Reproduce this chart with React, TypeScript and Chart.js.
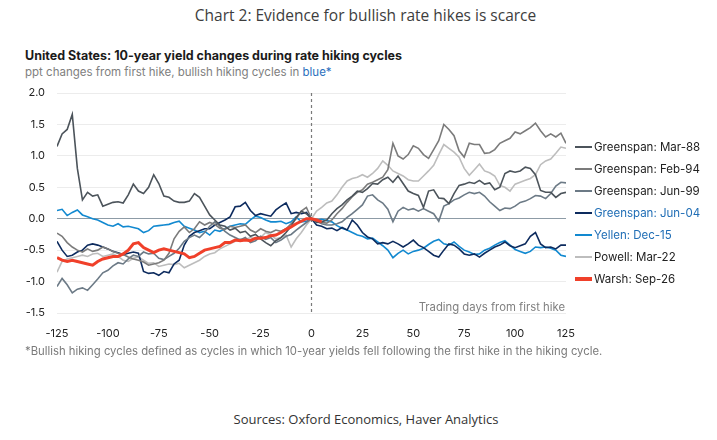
import React, { useEffect, useRef } from "react";
import { Chart, registerables } from "chart.js";

Chart.register(...registerables);

// Trading days from first hike (x grid, every 2.5 days)
const DAYS = [
  -125, -122.5, -120, -117.5, -115, -112.5, -110, -107.5, -105, -102.5,
  -100, -97.5, -95, -92.5, -90, -87.5, -85, -82.5, -80, -77.5,
  -75, -72.5, -70, -67.5, -65, -62.5, -60, -57.5, -55, -52.5,
  -50, -47.5, -45, -42.5, -40, -37.5, -35, -32.5, -30, -27.5,
  -25, -22.5, -20, -17.5, -15, -12.5, -10, -7.5, -5, -2.5,
  0,
  2.5, 5, 7.5, 10, 12.5, 15, 17.5, 20, 22.5, 25,
  27.5, 30, 32.5, 35, 37.5, 40, 42.5, 45, 47.5, 50,
  52.5, 55, 57.5, 60, 62.5, 65, 67.5, 70, 72.5, 75,
  77.5, 80, 82.5, 85, 87.5, 90, 92.5, 95, 97.5, 100,
  102.5, 105, 107.5, 110, 112.5, 115, 117.5, 120, 122.5, 125,
];

const MAR88 = [
  1.15, 1.35, 1.42, 1.66, 0.8, 0.3, 0.42, 0.36, 0.38, 0.2,
  0.23, 0.26, 0.27, 0.25, 0.38, 0.55, 0.44, 0.4, 0.5, 0.7,
  0.56, 0.36, 0.34, 0.28, 0.26, 0.26, 0.28, 0.4, 0.34, 0.2,
  0.06, -0.02, -0.1, -0.12, -0.18, -0.15, -0.22, -0.2, -0.28, -0.25,
  -0.32, -0.38, -0.43, -0.35, -0.3, -0.22, -0.12, 0.02, 0.12, 0.08,
  0.0,
  -0.06, -0.05, -0.02, 0.08, 0.16, 0.22, 0.3, 0.36, 0.44, 0.42,
  0.48, 0.56, 0.55, 0.62, 0.66, 0.58, 0.68, 0.56, 0.44, 0.4,
  0.37, 0.18, 0.44, 0.46, 0.33, 0.32, 0.24, 0.4, 0.53, 0.55,
  0.58, 0.56, 0.61, 0.55, 0.57, 0.46, 0.5, 0.72, 0.76, 0.74,
  0.76, 0.82, 0.8, 0.7, 0.45, 0.42, 0.42, 0.34, 0.4, 0.42,
];

const FEB94 = [
  -0.23, -0.28, -0.38, -0.45, -0.5, -0.53, -0.48, -0.52, -0.5, -0.45,
  -0.48, -0.52, -0.55, -0.57, -0.61, -0.64, -0.66, -0.69, -0.74, -0.72,
  -0.7, -0.66, -0.55, -0.32, -0.2, -0.13, -0.22, -0.16, -0.05, -0.1,
  -0.06, -0.09, -0.15, -0.17, -0.12, -0.14, -0.12, -0.1, -0.18, -0.22,
  -0.16, -0.2, -0.22, -0.18, -0.2, -0.16, -0.08, 0.0, 0.12, 0.18,
  0.0,
  -0.03, -0.06, -0.07, -0.02, 0.08, 0.16, 0.26, 0.35, 0.42, 0.46,
  0.55, 0.58, 0.62, 0.66, 0.78, 1.2, 1.0, 0.95, 1.02, 1.16,
  1.12, 1.02, 0.96, 1.1, 1.24, 1.5, 1.42, 1.32, 1.08, 0.98,
  1.2, 1.18, 1.18, 1.04, 1.05, 1.1, 1.2, 1.24, 1.28, 1.38,
  1.35, 1.4, 1.45, 1.52, 1.4, 1.3, 1.35, 1.3, 1.36, 1.2,
];

const JUN99 = [
  -1.08, -0.95, -1.05, -1.18, -1.12, -1.1, -1.14, -1.05, -0.96, -0.86,
  -0.82, -0.75, -0.7, -0.72, -0.64, -0.58, -0.6, -0.53, -0.56, -0.55,
  -0.63, -0.65, -0.6, -0.55, -0.47, -0.36, -0.3, -0.26, -0.3, -0.22,
  -0.12, -0.05, -0.12, -0.2, -0.26, -0.3, -0.34, -0.3, -0.38, -0.35,
  -0.28, -0.33, -0.3, -0.38, -0.34, -0.28, -0.25, -0.18, -0.12, -0.06,
  0.0,
  -0.04, -0.08, -0.1, -0.1, -0.08, -0.05, 0.02, 0.08, 0.15, 0.22,
  0.36, 0.38, 0.3, 0.25, 0.15, -0.05, 0.12, 0.18, 0.14, 0.16,
  0.12, 0.16, 0.12, 0.08, -0.04, 0.2, 0.24, 0.3, 0.33, 0.38,
  0.42, 0.4, 0.42, 0.36, 0.27, 0.2, 0.13, 0.17, 0.16, 0.2,
  0.26, 0.28, 0.32, 0.37, 0.36, 0.32, 0.4, 0.52, 0.58, 0.57,
];

const JUN04 = [
  -0.36, -0.5, -0.6, -0.58, -0.53, -0.5, -0.42, -0.4, -0.42, -0.45,
  -0.48, -0.52, -0.54, -0.57, -0.55, -0.53, -0.55, -0.84, -0.87, -0.86,
  -0.9, -0.84, -0.86, -0.72, -0.66, -0.42, -0.28, -0.22, -0.19, -0.16,
  -0.16, -0.1, -0.06, -0.02, 0.03, 0.19, 0.2, 0.26, 0.13, 0.05,
  0.08, 0.06, 0.04, 0.14, 0.2, 0.25, 0.08, 0.1, 0.08, 0.1,
  0.0,
  -0.1, -0.12, -0.16, -0.15, -0.19, -0.14, -0.18, -0.02, -0.1, -0.22,
  -0.29, -0.32, -0.4, -0.38, -0.4, -0.36, -0.4, -0.45, -0.4, -0.34,
  -0.42, -0.46, -0.52, -0.58, -0.61, -0.5, -0.4, -0.42, -0.48, -0.56,
  -0.58, -0.56, -0.61, -0.55, -0.5, -0.45, -0.42, -0.37, -0.43, -0.46,
  -0.43, -0.4, -0.28, -0.22, -0.4, -0.46, -0.45, -0.48, -0.42, -0.42,
];

const DEC15 = [
  0.13, 0.15, 0.05, 0.1, 0.14, 0.06, 0.03, 0.0, -0.02, -0.06,
  -0.1, -0.12, -0.08, -0.13, -0.12, -0.14, -0.16, -0.22, -0.19, -0.12,
  -0.11, -0.1, -0.09, -0.06, -0.04, -0.12, -0.15, -0.18, -0.22, -0.2,
  -0.26, -0.18, -0.2, -0.16, -0.12, -0.1, -0.08, -0.09, -0.02, 0.04,
  0.02, -0.02, -0.05, -0.05, -0.04, -0.08, -0.05, 0.03, -0.05, -0.04,
  0.0,
  -0.02, -0.01, -0.03, -0.05, -0.11, -0.15, -0.18, -0.22, -0.26, -0.28,
  -0.32, -0.31, -0.37, -0.43, -0.5, -0.62, -0.55, -0.5, -0.56, -0.52,
  -0.5, -0.47, -0.41, -0.36, -0.33, -0.4, -0.42, -0.37, -0.44, -0.5,
  -0.53, -0.57, -0.56, -0.5, -0.47, -0.42, -0.38, -0.35, -0.42, -0.49,
  -0.52, -0.55, -0.52, -0.45, -0.46, -0.45, -0.47, -0.5, -0.58, -0.6,
];

const MAR22 = [
  -0.85, -0.68, -0.64, -0.62, -0.6, -0.58, -0.6, -0.56, -0.55, -0.6,
  -0.58, -0.56, -0.6, -0.66, -0.68, -0.63, -0.61, -0.66, -0.71, -0.7,
  -0.76, -0.74, -0.72, -0.73, -0.71, -0.78, -0.74, -0.7, -0.66, -0.6,
  -0.56, -0.54, -0.48, -0.44, -0.4, -0.36, -0.32, -0.33, -0.3, -0.32,
  -0.3, -0.22, -0.26, -0.32, -0.3, -0.26, -0.45, -0.32, -0.22, -0.1,
  0.0,
  0.12, 0.18, 0.25, 0.28, 0.38, 0.5, 0.6, 0.64, 0.66, 0.7,
  0.66, 0.72, 0.8, 0.92, 0.85, 0.76, 0.72, 0.68, 0.62, 0.6,
  0.6, 0.68, 0.76, 0.85, 1.02, 1.18, 1.12, 1.06, 0.98, 0.8,
  0.69, 0.78, 0.87, 0.76, 0.73, 0.68, 0.53, 0.5, 0.44, 0.55,
  0.58, 0.61, 0.64, 0.7, 0.86, 0.92, 0.95, 1.04, 1.14, 1.12,
];

// Warsh: Sep-26 runs only to a few days after the (hypothetical) first hike
const SEP26 = [
  -0.62, -0.66, -0.68, -0.66, -0.68, -0.7, -0.72, -0.74, -0.68, -0.64,
  -0.62, -0.6, -0.6, -0.56, -0.5, -0.4, -0.38, -0.46, -0.5, -0.54,
  -0.5, -0.48, -0.5, -0.52, -0.54, -0.56, -0.62, -0.6, -0.55, -0.5,
  -0.48, -0.46, -0.44, -0.38, -0.38, -0.34, -0.35, -0.34, -0.35, -0.31,
  -0.31, -0.3, -0.27, -0.26, -0.22, -0.17, -0.13, -0.08, -0.04, 0.0,
  0.0,
  -0.02, -0.05,
];

const LABELS = [
  "Greenspan: Mar-88",
  "Greenspan: Feb-94",
  "Greenspan: Jun-99",
  "Greenspan: Jun-04",
  "Yellen: Dec-15",
  "Powell: Mar-22",
  "Warsh: Sep-26",
];
const COLORS = ["#4c545b", "#7b7b7b", "#6c7a86", "#0d2b5e", "#1289d0", "#bdbdbd", "#f0402a"];
const WIDTHS = [1.6, 1.6, 1.6, 1.6, 1.6, 1.6, 3];
const TEXT_COLORS = ["#222", "#222", "#222", "#1f6db5", "#1f6db5", "#222", "#222"];
const SERIES_DATA = [MAR88, FEB94, JUN99, JUN04, DEC15, MAR22, SEP26];

const Y_MIN = -1.5;
const Y_MAX = 2.0;
const X_MIN = -125;
const X_MAX = 125;

const FONT = "Inter, 'Open Sans', sans-serif";

export default function App() {
  const ref = useRef<HTMLCanvasElement>(null);

  useEffect(() => {
    document.body.style.margin = "0";
    const zeroLine = {
      id: "zeroLine",
      beforeDatasetsDraw(chart: any) {
        const { ctx, chartArea, scales } = chart;
        const x = scales.x.getPixelForValue(0);
        ctx.save();
        ctx.strokeStyle = "#7a7a7a";
        ctx.lineWidth = 1.2;
        ctx.setLineDash([3, 3]);
        ctx.beginPath();
        ctx.moveTo(x, chartArea.top);
        ctx.lineTo(x, chartArea.bottom);
        ctx.stroke();
        ctx.restore();
      },
    };

    const chart = new Chart(ref.current as HTMLCanvasElement, {
      type: "line",
      data: {
        datasets: SERIES_DATA.map((arr, k) => ({
          label: LABELS[k],
          data: arr.map((v, i) => ({ x: DAYS[i], y: v })),
          borderColor: COLORS[k],
          backgroundColor: COLORS[k],
          borderWidth: WIDTHS[k],
          pointRadius: 0,
          tension: 0,
          fill: false,
          order: k === 6 ? -1 : k,
        })),
      },
      options: {
        animation: false,
        responsive: false,
        layout: { padding: { left: 0, right: 34, top: 20, bottom: 0 } },
        plugins: {
          legend: { display: false },
          tooltip: { enabled: false },
        },
        scales: {
          x: {
            type: "linear",
            min: X_MIN,
            max: X_MAX,
            ticks: {
              stepSize: 25,
              color: "#222",
              font: { family: FONT, size: 11 },
              padding: 14,
              maxRotation: 0,
              autoSkip: false,
            },
            grid: { display: false, drawTicks: false },
            border: { display: false },
            afterFit: (s: any) => {
              s.height = 37;
            },
          },
          y: {
            min: Y_MIN,
            max: Y_MAX,
            ticks: {
              stepSize: 0.5,
              callback: (v: any) => Number(v).toFixed(1),
              color: "#222",
              font: { family: FONT, size: 11 },
              padding: 12,
            },
            grid: {
              color: (c: any) => (c.tick && c.tick.value === 0 ? "#8d9ba6" : "#ececec"),
              drawTicks: false,
              lineWidth: 1,
            },
            border: { display: false },
            afterFit: (s: any) => {
              s.width = 57;
            },
          },
        },
      },
      plugins: [zeroLine],
    } as any);
    return () => chart.destroy();
  }, []);

  return (
    <div
      style={{
        position: "relative",
        width: 717,
        height: 440,
        background: "#fff",
        fontFamily: FONT,
        overflow: "hidden",
      }}
    >
      <div
        style={{
          position: "absolute",
          top: 4,
          left: 7,
          width: 717,
          textAlign: "center",
          fontFamily: "'Open Sans', sans-serif",
          fontSize: 15.5,
          color: "#3d3d3d",
          whiteSpace: "nowrap",
        }}
      >
        Chart 2: Evidence for bullish rate hikes is scarce
      </div>
      <div
        style={{
          position: "absolute",
          top: 48,
          left: 25,
          fontSize: 12.5,
          fontWeight: 700,
          color: "#1b1b1b",
          whiteSpace: "nowrap",
        }}
      >
        United States: 10-year yield changes during rate hiking cycles
      </div>
      <div
        style={{
          position: "absolute",
          top: 65,
          left: 25,
          fontSize: 11.5,
          color: "#808080",
          whiteSpace: "nowrap",
        }}
      >
        ppt changes from first hike, bullish hiking cycles in{" "}
        <span style={{ color: "#2b6fbd" }}>blue*</span>
      </div>
      <canvas
        ref={ref}
        width={600}
        height={277}
        style={{ position: "absolute", left: 0, top: 73, width: 600, height: 277 }}
      />
      <div
        style={{
          position: "absolute",
          top: 300,
          left: 365,
          width: 200,
          textAlign: "right",
          fontSize: 11.3,
          color: "#808080",
          whiteSpace: "nowrap",
        }}
      >
        Trading days from first hike
      </div>
      <div style={{ position: "absolute", left: 575, top: 136 }}>
        {LABELS.map((l, k) => (
          <div
            key={l}
            style={{ display: "flex", alignItems: "center", height: 22, whiteSpace: "nowrap" }}
          >
            <span
              style={{
                display: "inline-block",
                width: 17,
                height: k === 6 ? 3.5 : 2,
                background: COLORS[k],
                marginRight: 2,
              }}
            />
            <span style={{ fontSize: 11.5, color: TEXT_COLORS[k] }}>{l}</span>
          </div>
        ))}
      </div>
      <div
        style={{
          position: "absolute",
          top: 344,
          left: 25,
          fontSize: 11.3,
          color: "#7a7a7a",
          whiteSpace: "nowrap",
        }}
      >
        *Bullish hiking cycles defined as cycles in which 10-year yields fell following the first hike in the hiking cycle.
      </div>
      <div
        style={{
          position: "absolute",
          top: 410,
          left: 0,
          width: 732,
          textAlign: "center",
          fontFamily: "'Open Sans', sans-serif",
          fontSize: 13,
          color: "#333",
          whiteSpace: "nowrap",
        }}
      >
        Sources: Oxford Economics, Haver Analytics
      </div>
    </div>
  );
}
